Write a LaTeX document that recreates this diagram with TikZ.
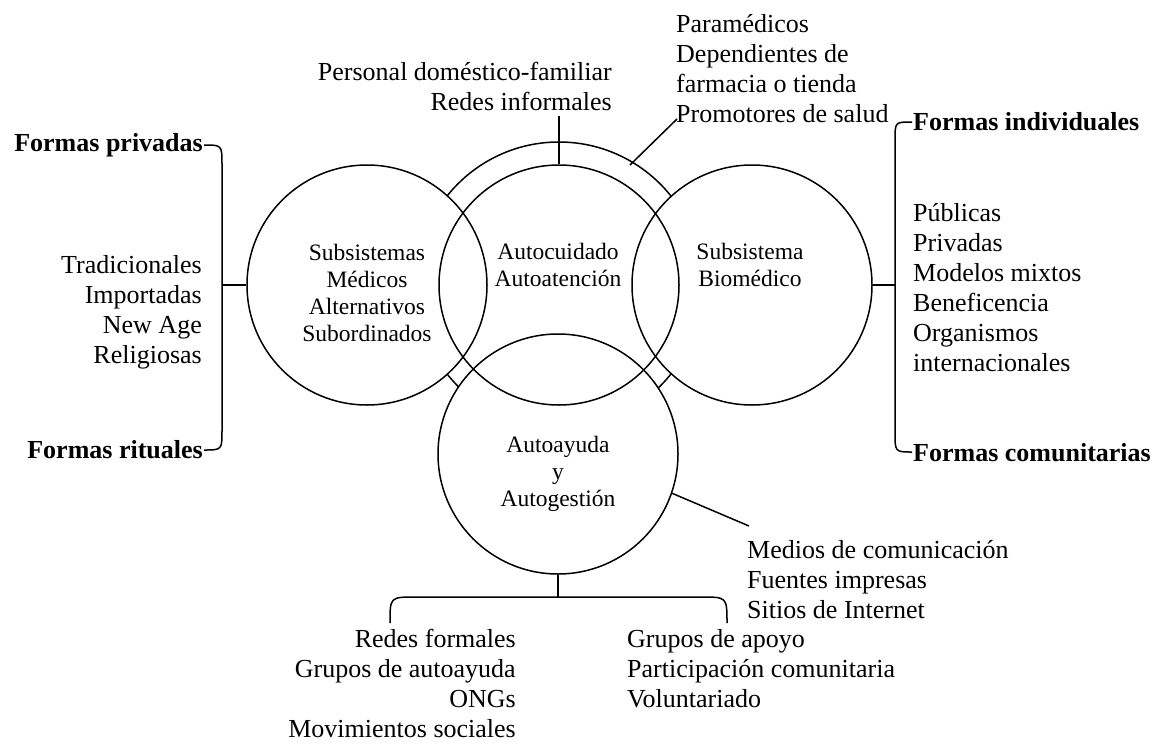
\documentclass[tikz,border=0pt]{standalone}
\usepackage{fontspec}
\setmainfont{Liberation Serif}
\begin{document}
\begin{tikzpicture}[x=1pt,y=-1pt,
  ring/.style={draw, circle, line width=1.5pt, inner sep=0pt},
  lbl/.style={font=\fontsize{26}{30}\selectfont, inner sep=0pt},
  blbl/.style={font=\fontsize{26}{30}\selectfont\bfseries, inner sep=0pt},
  ctext/.style={font=\fontsize{23.5}{27}\selectfont, align=center, inner sep=0pt},
  conn/.style={line width=1.5pt}]
\useasboundingbox (0,0) rectangle (1160,750);
\fill[white] (0,0) rectangle (1160,750);

% circles
\node[ring, minimum size=286pt] (outer) at (559,285) {};
\node[ring, fill=white, minimum size=240pt] (L) at (367,285) {};
\node[ring, fill=white, minimum size=240pt] (R) at (752,285) {};
\node[ring, fill=white, minimum size=240pt] (B) at (558,454) {};
\node[ring, minimum size=240pt] (C) at (559,285) {};

% circle texts
\node[ctext] (tL) at (367,293) {Subsistemas\\Médicos\\Alternativos\\Subordinados};
\node[ctext] (tC) at (558,265) {Autocuidado\\Autoatención};
\node[ctext] (tR) at (750,265) {Subsistema\\Biomédico};
\node[ctext] (tB) at (558,474) {Autoayuda\\y\\Autogestión};

% top texts
\node[lbl, align=right, anchor=east] (inf) at (612,86) {Personal doméstico-familiar\\Redes informales};
\node[lbl, align=left, anchor=west] (para) at (676,69) {Paramédicos\\Dependientes de\\farmacia o tienda\\Promotores de salud};

% left side
\node[blbl, anchor=east] (fpriv) at (203,145) {Formas privadas};
\node[blbl, anchor=east] (frit) at (203,450) {Formas rituales};
\node[lbl, align=right, anchor=east] (trad) at (202,312) {Tradicionales\\Importadas\\New Age\\Religiosas};

% right side
\node[blbl, anchor=west] (find) at (913,122) {Formas individuales};
\node[blbl, anchor=west] (fcom) at (913,453) {Formas comunitarias};
\node[lbl, align=left, anchor=west] (pub) at (913,288) {Públicas\\Privadas\\Modelos mixtos\\Beneficencia\\Organismos\\internacionales};

% bottom right
\node[lbl, align=left, anchor=west] (med) at (747,580) {Medios de comunicación\\Fuentes impresas\\Sitios de Internet};

% bottom
\node[lbl, align=right, anchor=east] (redf) at (516,683) {Redes formales\\Grupos de autoayuda\\ONGs\\Movimientos sociales};
\node[lbl, align=left, anchor=west] (gap) at (627,669) {Grupos de apoyo\\Participación comunitaria\\Voluntariado};

% connectors
\coordinate (infL) at (559,116);
\draw[conn] (infL) -- (C.north);
\coordinate (promA) at (677,119);
\coordinate (promB) at (630,165);
\draw[conn] (promA) -- (promB);

\coordinate (lbT) at (204,145);
\coordinate (lbB) at (204,450);
\coordinate (lbM) at (222,285);
\draw[conn] (lbT) .. controls (222,145) .. (222,165) -- (222,430) .. controls (222,450) .. (lbB);
\draw[conn] (lbM) -- (L.west);

\coordinate (rbT) at (912,122);
\coordinate (rbB) at (912,452);
\coordinate (rbM) at (895,285);
\draw[conn] (rbT) .. controls (895,122) .. (895,140) -- (895,432) .. controls (895,452) .. (rbB);
\draw[conn] (R.east) -- (rbM);

\coordinate (bbM) at (558,597);
\coordinate (bbL) at (390,623);
\coordinate (bbR) at (727,623);
\draw[conn] (B.south) -- (bbM);
\draw[conn] (bbL) .. controls (390,597) .. (416,597) -- (701,597) .. controls (727,597) .. (bbR);

\coordinate (medB) at (749,526);
\draw[conn] (B.-19) -- (medB);
\end{tikzpicture}
\end{document}
